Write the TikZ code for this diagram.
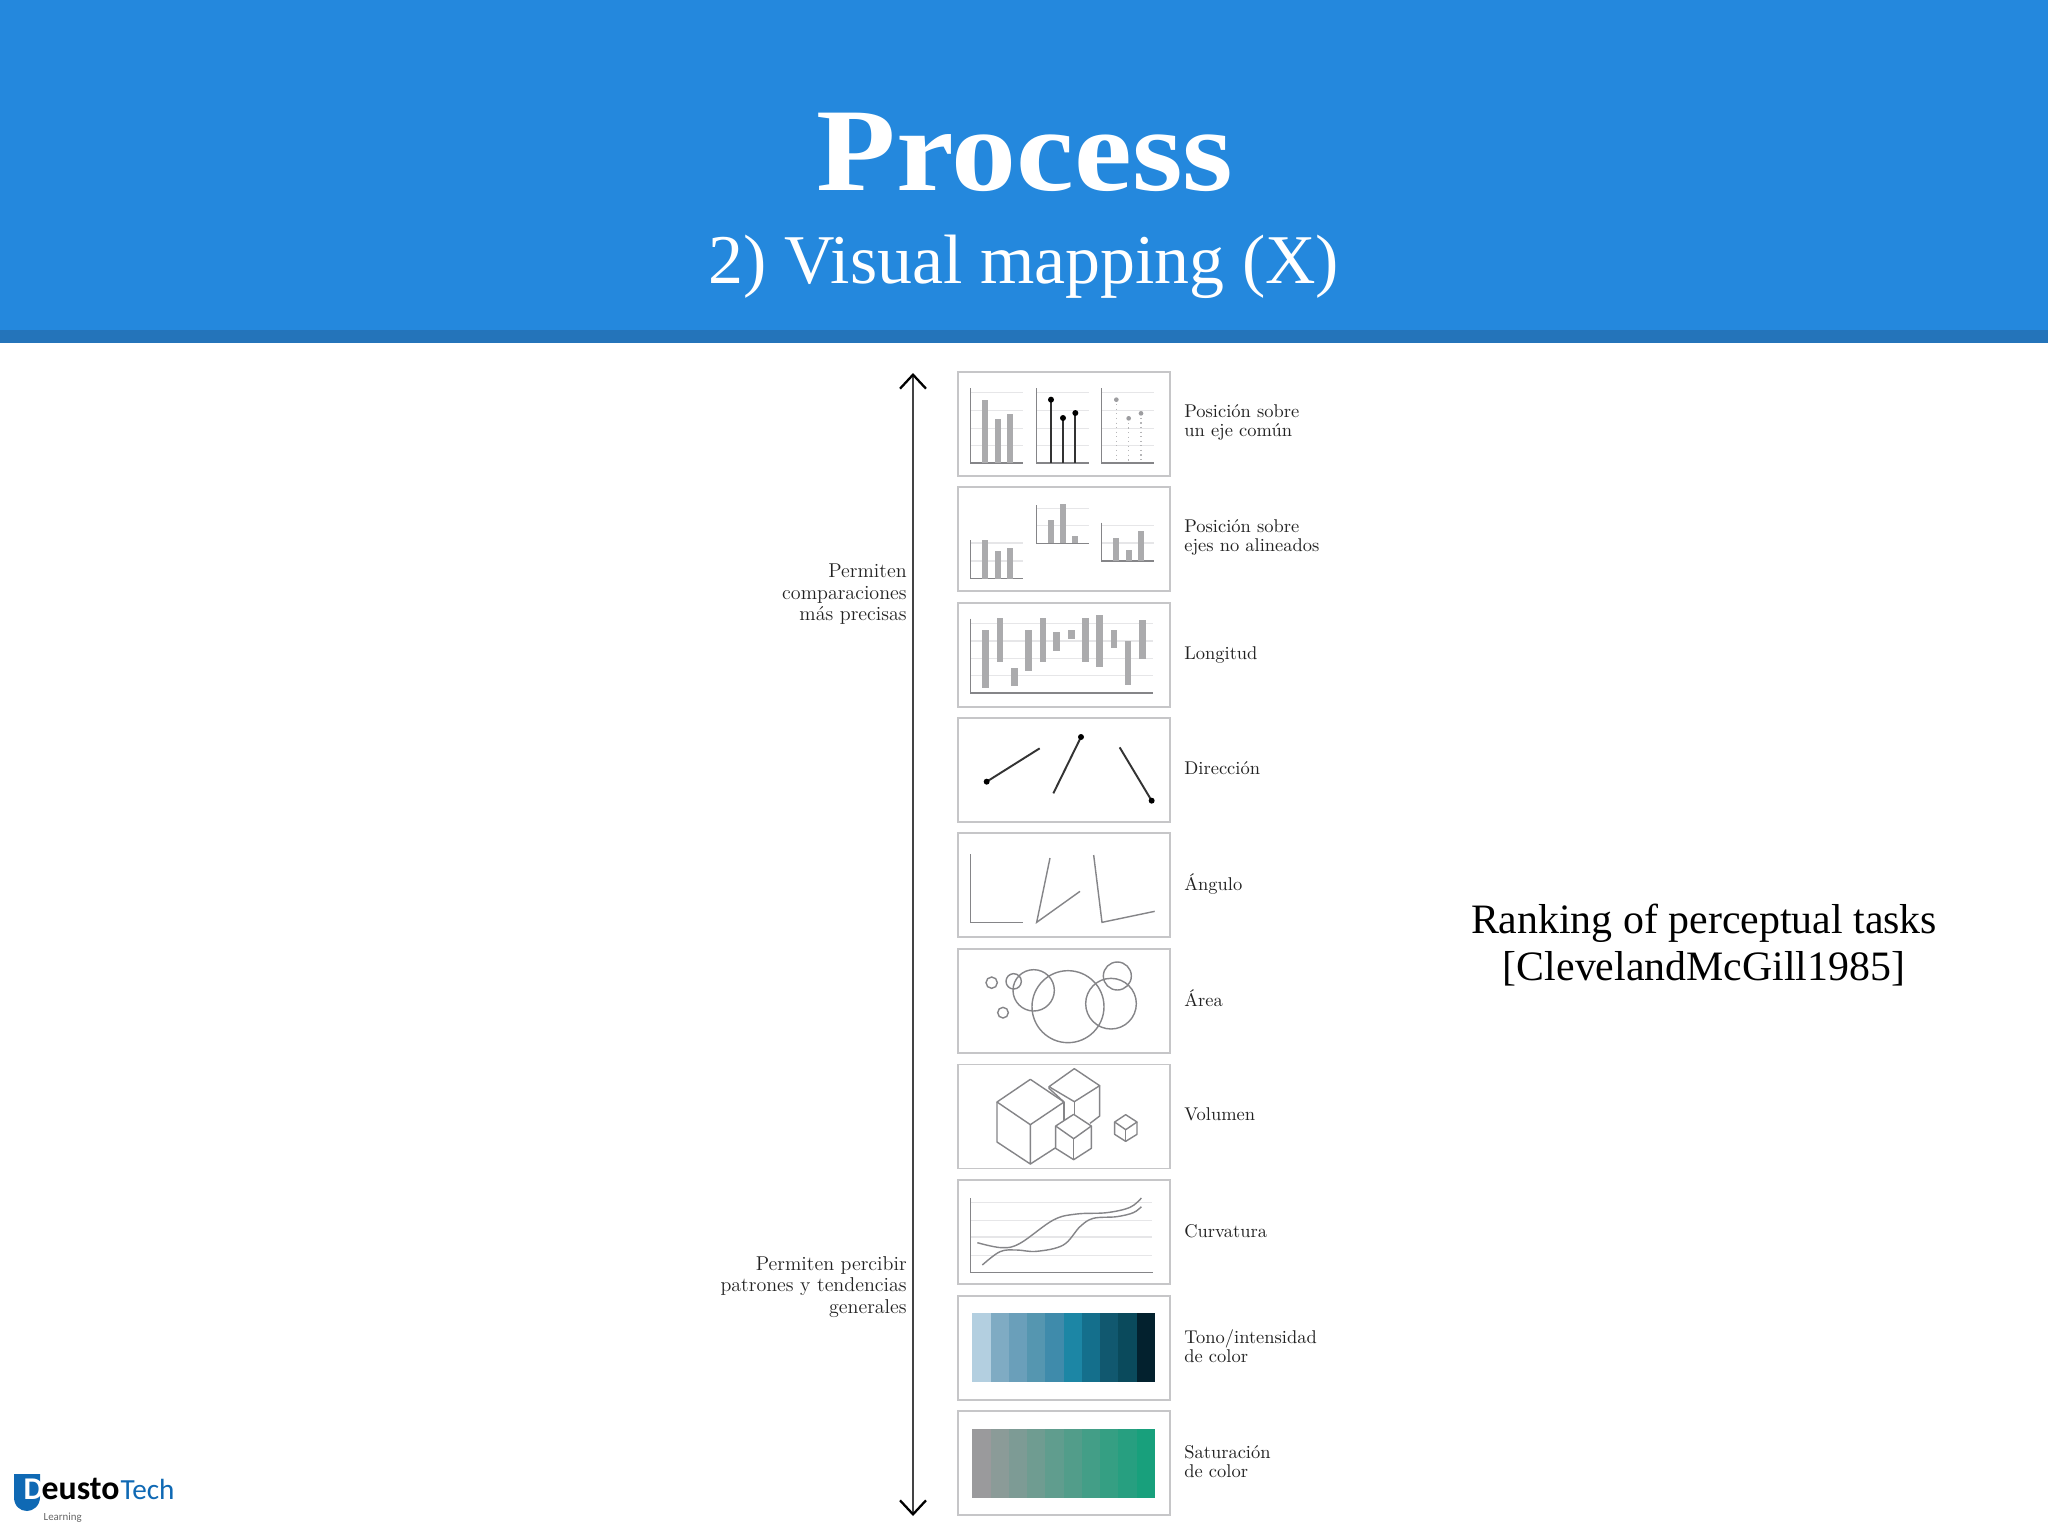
\documentclass[tikz,border=0pt]{standalone}
\usepackage{fontspec}
\usetikzlibrary{arrows.meta}

\newfontfamily\slidefont{Liberation Serif}
\newfontfamily\titlefont[FakeStretch=1.1]{Liberation Serif}
\newfontfamily\logofont{Carlito}

\definecolor{headerblue}{HTML}{2488DD}
\definecolor{headerdark}{HTML}{2474BA}
\definecolor{logoblue}{HTML}{0F69B4}
\definecolor{panelgray}{HTML}{C6C6C8}
\definecolor{axisgray}{HTML}{858588}
\definecolor{gridgray}{HTML}{E6E6E8}
\definecolor{bargray}{HTML}{ABABAD}
\definecolor{capgray}{HTML}{222222}
\definecolor{tonea}{HTML}{B3CFE0}
\definecolor{toneb}{HTML}{7FABC3}
\definecolor{tonec}{HTML}{6A9FBA}
\definecolor{toned}{HTML}{5596B0}
\definecolor{tonee}{HTML}{3F8BAB}
\definecolor{tonef}{HTML}{1C86A5}
\definecolor{toneg}{HTML}{146F8C}
\definecolor{toneh}{HTML}{11586F}
\definecolor{tonei}{HTML}{0A4A5C}
\definecolor{tonej}{HTML}{03212E}
\definecolor{satgray}{HTML}{9A9A9C}
\definecolor{satgreen}{HTML}{18A07C}

\tikzset{
  panelbox/.style={draw=panelgray, line width=0.45pt, minimum width=2.12cm, minimum height=1.04cm, inner sep=0pt},
  tasklabel/.style={anchor=west, align=left, inner sep=0pt, scale=0.5, text=capgray, font=\fontsize{10.5}{10.7}\selectfont},
  sidelabel/.style={anchor=east, align=right, inner sep=0pt, scale=0.5, text=capgray, font=\fontsize{11.4}{12.2}\selectfont},
  axisline/.style={draw=axisgray, line width=0.4pt},
  gridline/.style={draw=gridgray, line width=0.3pt},
  barfill/.style={fill=bargray},
  shapeline/.style={draw=axisgray, line width=0.4pt},
  cubeline/.style={draw=axisgray, line width=0.4pt, line join=round},
  dirline/.style={draw=black!80, line width=0.55pt},
}

\begin{document}
\begin{tikzpicture}[x=0.01cm, y=-0.01cm]
        \useasboundingbox (0,0) rectangle (2048,1536);
        \fill[white] (0,0) rectangle (2048,1536);

        % Header
        \fill[headerblue] (0,0) rectangle (2048,330);
        \fill[headerdark] (0,330) rectangle (2048,343);
        \node[anchor=base, text=white, inner sep=0pt, font=\titlefont\fontsize{33.6}{36}\selectfont\bfseries] (title) at (1025,190) {Process};
        \node[anchor=base, text=white, inner sep=0pt, font=\slidefont\fontsize{19.87}{22}\selectfont] (subtitle) at (1024,283) {2) Visual mapping (X)};

        % Scale arrow
        \coordinate (scaletop) at (913,373);
        \coordinate (scalebottom) at (913,1516);
        \draw[axisgray!50!black, line width=0.4pt, {Straight Barb[length=0.14cm, width=0.26cm, line width=0.65pt, black]}-{Straight Barb[length=0.14cm, width=0.26cm, line width=0.65pt, black]}] (scaletop) -- (scalebottom);

        % Side labels
        \node[sidelabel] (precise) at (907,594.5) {Permiten\\comparaciones\\más precisas};
        \node[sidelabel] (patterns) at (907,1287) {Permiten percibir\\patrones y tendencias\\generales};

        % Panels
        \node[panelbox] (common) at (1064,424) {};
        \node[panelbox] (unaligned) at (1064,539) {};
        \node[panelbox] (length) at (1064,655) {};
        \node[panelbox] (direction) at (1064,770) {};
        \node[panelbox] (angle) at (1064,885) {};
        \node[panelbox] (area) at (1064,1001) {};
        \node[panelbox] (volume) at (1064,1116.5) {};
        \node[panelbox] (curvature) at (1064,1232) {};
        \node[panelbox] (shade) at (1064,1348) {};
        \node[panelbox] (saturation) at (1064,1463) {};

        % Task labels
        \node[tasklabel] (commonlabel) at (1184,422.5) {Posición sobre\\un eje común};
        \node[tasklabel] (unalignedlabel) at (1184,537.5) {Posición sobre\\ejes no alineados};
        \node[tasklabel] (lengthlabel) at (1184,655) {Longitud};
        \node[tasklabel] (directionlabel) at (1184,768) {Dirección};
        \node[tasklabel] (anglelabel) at (1184,884) {Ángulo};
        \node[tasklabel] (arealabel) at (1184,998) {Área};
        \node[tasklabel] (volumelabel) at (1184,1114) {Volumen};
        \node[tasklabel] (curvaturelabel) at (1184,1231) {Curvatura};
        \node[tasklabel] (shadelabel) at (1184,1346.5) {Tono/intensidad\\de color};
        \node[tasklabel] (saturationlabel) at (1184,1461.5) {Saturación\\de color};

        % Side note
        \node[align=center, inner sep=0pt, text=black, font=\slidefont\fontsize{11.9}{13.3}\selectfont] (note) at (1704,945) {Ranking of perceptual tasks\\{}[ClevelandMcGill1985]};

        % Position and length panels
        \begin{scope}[shift={(940,360)}, scale=1/3]
            \foreach \xa in {92,290,485} {
                \foreach \ya in {98,152,205,256}
                    \draw[gridline] (\xa,\ya) -- (\xa+156,\ya);
                \draw[axisline] (\xa,85) -- (\xa,309) -- (\xa+156,309);
            }
            \foreach \xa/\ya in {127/119,164/176,201/161}
                \fill[barfill] (\xa,\ya) rectangle (\xa+18,309);
            \foreach \xa/\ya in {333/119,369/174,406/159} {
                \draw[dirline] (\xa,\ya) -- (\xa,309);
                \fill[black] (\xa,\ya) circle (9);
            }
            \foreach \xa/\ya in {529/119,566/175,603/160} {
                \draw[axisgray!60, line width=0.3pt, densely dotted] (\xa,\ya) -- (\xa,309);
                \fill[axisgray!80] (\xa,\ya) circle (7);
            }

            % unaligned axes
            \foreach \xa/\ya/\yb/\yc in {92/549/603/656,290/445/497/550,485/496/549/603} {
                \draw[gridline] (\xa,\ya) -- (\xa+156,\ya);
                \draw[gridline] (\xa,\yb) -- (\xa+156,\yb);
                \draw[axisline] (\xa,\yc-115) -- (\xa,\yc) -- (\xa+156,\yc);
            }
            \foreach \xa/\ya/\yb in {127/541/656,164/574/656,201/565/656,323/480/550,360/433/550,397/529/550,520/533/603,557/569/603,594/513/603}
                \fill[barfill] (\xa,\ya) rectangle (\xa+18,\yb);

            % floating bars
            \foreach \ya in {790,843,895,947}
                \draw[gridline] (92,\ya) -- (640,\ya);
            \draw[axisline] (92,776) -- (92,999) -- (640,999);
            \foreach \xa/\ya/\yb in {127/811/985,170/773/905,213/924/978,256/811/932,299/773/905,340/816/873,384/811/837,426/773/905,469/765/921,512/811/865,554/843/976,598/780/897}
                \fill[barfill] (\xa,\ya) rectangle (\xa+20,\yb);
        \end{scope}

        % Direction, angle and area panels
        \begin{scope}[shift={(940,710)}, scale=1/3]
            \draw[dirline] (140,215) -- (299,115);
            \draw[dirline] (340,250) -- (423,81);
            \draw[dirline] (539,112) -- (635,272);
            \foreach \xa/\ya in {140/215,423/81,635/272}
                \fill[black] (\xa,\ya) circle (9);

            \draw[shapeline] (92,432) -- (92,637) -- (248,637);
            \draw[shapeline] (330,444) -- (290,637) -- (420,544);
            \draw[shapeline] (461,435) -- (486,637) -- (644,604);

            \foreach \xa/\ya/\ra in {155/818/17,221/814/23,189/908/16,281/841/62,384/890/108,513/881/76,532/798/42}
                \draw[shapeline] (\xa,\ya) circle (\ra);
        \end{scope}

        % Volume panel
        \begin{scope}[shift={(950,1055)}, scale=1/3]
            % big cube
            \draw[cubeline] (141,141) -- (241,73) -- (342,141) -- (241,209) -- cycle;
            \draw[cubeline] (141,141) -- (141,261) -- (241,327) -- (241,209);
            \draw[cubeline] (342,141) -- (342,197);
            \draw[cubeline] (241,327) -- (317,278);
            % back cube
            \draw[cubeline] (297,95) -- (373,41) -- (449,92) -- (373,140) -- cycle;
            \draw[cubeline] (297,95) -- (297,100) -- (342,141);
            \draw[cubeline] (373,140) -- (373,180);
            \draw[cubeline] (449,92) -- (449,183) -- (420,205);
            % front cube
            \draw[cubeline] (317,213) -- (371,178) -- (424,213) -- (371,251) -- cycle;
            \draw[cubeline] (317,213) -- (317,280) -- (371,314) -- (424,280) -- (424,213);
            \draw[cubeline] (371,251) -- (371,314);
            % tiny cube
            \draw[cubeline] (494,201) -- (527,179) -- (561,201) -- (527,224) -- cycle;
            \draw[cubeline] (494,201) -- (494,238) -- (527,259) -- (561,238) -- (561,201);
            \draw[cubeline] (527,224) -- (527,259);
        \end{scope}

        % Curvature and colour panels
        \begin{scope}[shift={(940,1170)}, scale=1/3]
            \foreach \ya in {98,151,201,256}
                \draw[gridline] (92,\ya) -- (636,\ya);
            \draw[axisline] (92,84) -- (92,307) -- (640,307);
            \draw[shapeline] plot[smooth, tension=0.6] coordinates {(112,218) (185,233) (240,220) (340,150) (410,132) (500,128) (570,112) (604,84)};
            \draw[shapeline] plot[smooth, tension=0.6] coordinates {(127,285) (180,245) (230,240) (290,244) (370,225) (420,170) (460,145) (530,140) (580,128) (604,110)};

            \foreach \tone [count=\i from 0] in {tonea,toneb,tonec,toned,tonee,tonef,toneg,toneh,tonei,tonej}
                \fill[\tone] (97+\i*54.8,430) rectangle (97+\i*54.8+55,637);
            \foreach \i [evaluate=\i as \p using \i*100/9] in {0,...,9}
                \fill[satgreen!\p!satgray] (97+\i*54.8,777) rectangle (97+\i*54.8+55,984);
        \end{scope}

        % Logo
        \fill[logoblue] (14,1474) -- (40,1474) -- (40,1497) .. controls (40,1506) and (33,1511) .. (27,1511) .. controls (20,1511) and (14,1506) .. (14,1497) -- cycle;
        \node[anchor=base west, inner sep=0pt, text=white, font=\logofont\fontsize{9}{9}\selectfont\bfseries] (logod) at (23,1499) {D};
        \node[anchor=base west, inner sep=0pt, text=black, font=\logofont\fontsize{9.6}{9}\selectfont\bfseries] (logoeusto) at (41,1499) {eusto};
        \node[anchor=base west, inner sep=0pt, text=logoblue, font=\logofont\fontsize{8.3}{9}\selectfont] (logotech) at (120,1499) {Tech};
        \node[anchor=base west, inner sep=0pt, text=black!60, font=\logofont\fontsize{3.1}{4}\selectfont] (logolearning) at (43,1520) {Learning};
    \end{tikzpicture}
\end{document}
